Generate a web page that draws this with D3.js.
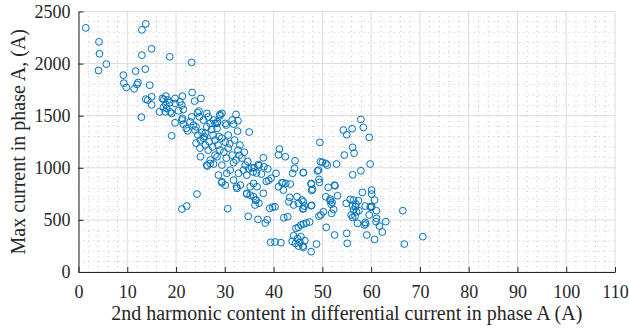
<!DOCTYPE html>
<html>
<head>
<meta charset="utf-8">
<script src="https://cdn.jsdelivr.net/npm/d3@7"></script>
<style>
  body { margin: 0; background: #fff; }
  text { font-family: "Liberation Serif", "Times New Roman", serif; fill: #262626; }
</style>
</head>
<body>
<div id="chart"></div>
<script>
// harmonic content (A) vs max current (A)
const harmonic = [
  1.5, 13.8, 13.0, 4.2, 4.3, 15.0, 13.0, 18.7, 5.7, 4.1, 13.7, 11.7, 9.2, 9.3, 12.2, 12.0, 9.8, 11.4, 14.6, 13.8, 14.2, 15.0, 15.0, 12.9, 23.2,
  16.6, 17.4, 17.9, 17.2, 17.9, 18.3, 18.7, 19.1, 19.8, 17.5, 18.1, 18.8, 17.8, 19.8, 20.8, 21.3, 21.2, 20.5, 21.5, 23.3, 23.8, 25.1, 19.8, 19.1, 21.2, 21.3, 21.5, 22.1, 22.4, 23.2, 22.9, 23.6, 24.1, 24.4, 24.8, 24.7,
  23.9, 24.5, 25.0, 25.6, 24.1, 26.0, 26.6, 24.9, 26.3, 26.6, 25.6, 27.0, 28.0, 28.5, 27.7, 26.3, 27.3, 28.4, 29.0, 29.4, 32.3, 32.7, 31.8, 30.1, 35.0, 32.6, 30.7, 32.0, 27.6, 28.0, 28.6, 29.4, 30.1, 29.0, 30.7, 31.5, 32.7, 30.3, 33.5, 32.3, 28.0, 27.0, 29.4, 34.2, 33.1, 25.0, 31.5, 30.3, 29.0, 28.4,
  25.3, 26.0, 25.8, 26.8, 27.5, 28.8, 29.8, 31.0, 31.8, 33.0, 34.0, 34.7, 35.5,
  26.3, 27.0, 28.4, 28.7, 29.4, 30.1, 30.4, 31.1, 31.8, 32.5, 33.2, 32.8, 33.8, 34.5, 35.2, 35.9, 36.6, 34.5, 35.2, 26.4, 27.7, 29.4, 32.4, 36.3, 37.0, 37.9, 38.5, 39.0, 36.0, 37.0, 38.0, 36.5, 37.5, 38.8, 39.5, 37.9, 36.9, 35.8, 34.9, 35.9, 36.2, 36.4, 34.5,
  21.2, 22.2, 24.3, 30.6, 34.8, 36.8, 38.7, 38.3, 39.4, 40.3, 41.5, 39.2, 39.8, 40.3,
  42.1, 42.9, 43.8, 44.5, 45.1, 46.1, 47.7, 44.1, 44.6, 45.1, 45.6, 46.1, 46.7, 47.4, 43.1, 44.1, 45.1, 45.8, 46.3, 47.8, 42.5, 41.9, 41.0, 40.5, 46.1, 44.3, 44.4, 41.2, 41.0, 42.4, 47.7, 48.0, 48.8, 43.3, 41.7, 43.4, 42.0, 44.8, 46.1, 43.9, 45.4, 46.0, 44.9, 45.6, 46.4,
  49.5, 56.2, 56.5, 54.5, 49.6, 50.0, 50.7, 51.0, 52.9, 59.8, 57.9, 56.2, 46.1, 49.0, 49.3, 49.4, 47.7, 47.8, 51.2, 52.5, 53.1, 50.7, 51.6, 52.0, 52.3, 51.9, 50.2, 49.7, 49.3, 46.1, 46.0, 47.7, 50.8, 52.5, 55.0, 55.1,
  54.9, 55.7, 56.4, 56.9, 57.4, 58.2, 60.1, 60.1, 60.7, 58.8, 59.8, 60.0, 60.1, 61.1, 56.4, 57.0, 57.5, 55.9, 56.2, 56.7, 58.8, 58.9, 57.2, 61.1, 61.0, 63.0, 61.7, 62.3, 59.1, 60.7, 66.5, 66.8, 70.6,
  59.6, 57.9, 58.4, 54.3, 55.0, 56.1, 52.6, 59.6, 56.2, 56.8, 58.6, 49.2, 51.6, 51.8
];
const maxCurrent = [
  2343, 2381, 2324, 2209, 2094, 2142, 2081, 2065, 1995, 1934, 1947, 1928, 1889, 1812, 1819, 1800, 1771, 1758, 1793, 1659, 1649, 1681, 1604, 1486, 2011,
  1537, 1579, 1608, 1665, 1688, 1650, 1624, 1522, 1665, 1656, 1570, 1537, 1537, 1618, 1633, 1688, 1602, 1547, 1560, 1723, 1640, 1666, 1432, 1307, 1458, 1474, 1419, 1378, 1355, 1489, 1441, 1410, 1393, 1528, 1489, 1544,
  1362, 1314, 1266, 1285, 1237, 1218, 1170, 1189, 1522, 1489, 1458, 1426, 1426, 1441, 1458, 1393, 1368, 1378, 1512, 1522, 1512, 1451, 1419, 1426, 1343, 1352, 1314, 1266, 1314, 1266, 1218, 1285, 1247, 1170, 1189, 1122, 1170, 1093, 1093, 1074, 1122, 1074, 1026, 1026, 1218, 1106, 1458, 1410, 1499, 1426,
  1340, 1330, 1300, 1250, 1200, 1300, 1150, 1230, 1050, 1120, 1150, 1060, 1000,
  1026, 1042, 1106, 930, 866, 834, 947, 978, 882, 803, 834, 947, 978, 930, 818, 850, 818, 755, 738, 1017, 1036, 856, 818, 690, 660, 755, 870, 880, 1000, 1020, 1010, 950, 940, 990, 900, 1096, 1030, 960, 990, 722, 643, 690, 748,
  604, 633, 748, 607, 534, 505, 502, 470, 285, 288, 281, 611, 623, 626,
  521, 530, 294, 275, 249, 237, 195, 348, 419, 429, 451, 460, 470, 480, 674, 643, 659, 690, 633, 640, 850, 856, 818, 947, 956, 994, 1067, 1180, 1125, 1106, 850, 793, 268, 716, 856, 844, 786, 722, 611, 947, 285, 249, 320, 340, 300,
  1244, 1196, 1141, 1122, 1058, 1052, 1042, 1026, 1036, 1036, 972, 933, 952, 969, 889, 860, 844, 783, 812, 834, 732, 722, 684, 668, 601, 563, 578, 547, 537, 674, 604, 636, 429, 355, 371, 275,
  659, 697, 690, 652, 684, 764, 786, 748, 690, 633, 626, 620, 630, 588, 595, 578, 588, 547, 524, 537, 476, 460, 467, 515, 483, 483, 441, 384, 355, 313, 588, 268, 339,
  1292, 1464, 1388, 1362, 1317, 1375, 827, 547, 633, 626, 451, 978, 700, 650
];
const xTicks = [0, 10, 20, 30, 40, 50, 60, 70, 80, 90, 100, 110];
const yTicks = [0, 500, 1000, 1500, 2000, 2500];
const xMinor = d3.range(0, 111, 2);
const yMinor = d3.range(0, 2501, 100);

const width = 629, height = 328;
const margin = {top: 11.5, right: 14, bottom: 56, left: 78.5};
const serif = '"Liberation Serif", "Times New Roman", serif';

const svg = d3.select("#chart").append("svg")
    .attr("width", width)
    .attr("height", height);

const x = d3.scaleLinear().domain([0, 110]).range([margin.left, width - margin.right]);
const y = d3.scaleLinear().domain([0, 2500]).range([height - margin.bottom, margin.top]);

// minor grid (dotted)
svg.append("g").selectAll("line")
    .data(xMinor.filter(d => d % 10 !== 0))
    .join("line")
    .attr("x1", d => x(d)).attr("x2", d => x(d))
    .attr("y1", y(0)).attr("y2", y(2500))
    .attr("stroke", "#c4c4c4").attr("stroke-width", 1)
    .attr("stroke-dasharray", "1,4");
svg.append("g").selectAll("line")
    .data(yMinor.filter(d => d % 500 !== 0))
    .join("line")
    .attr("y1", d => y(d)).attr("y2", d => y(d))
    .attr("x1", x(0)).attr("x2", x(110))
    .attr("stroke", "#c4c4c4").attr("stroke-width", 1)
    .attr("stroke-dasharray", "1,4");

// major grid
svg.append("g").selectAll("line")
    .data(xTicks)
    .join("line")
    .attr("x1", d => x(d)).attr("x2", d => x(d))
    .attr("y1", y(0)).attr("y2", y(2500))
    .attr("stroke", "#dcdcdc").attr("stroke-width", 1);
svg.append("g").selectAll("line")
    .data(yTicks)
    .join("line")
    .attr("y1", d => y(d)).attr("y2", d => y(d))
    .attr("x1", x(0)).attr("x2", x(110))
    .attr("stroke", "#dcdcdc").attr("stroke-width", 1);

// points
svg.append("g").selectAll("circle")
    .data(harmonic.map((h, i) => [h, maxCurrent[i]]))
    .join("circle")
    .attr("cx", d => x(d[0]))
    .attr("cy", d => y(d[1]))
    .attr("r", 3.4)
    .attr("fill", "none")
    .attr("stroke", "#0072BD")
    .attr("stroke-width", 1);

// axes
const xAxis = d3.axisBottom(x).tickValues(xTicks).tickFormat(d3.format("d"))
    .tickSizeInner(-5).tickSizeOuter(0).tickPadding(13);
const yAxis = d3.axisLeft(y).tickValues(yTicks).tickFormat(d3.format("d"))
    .tickSizeInner(-5).tickSizeOuter(0).tickPadding(8);

const gx = svg.append("g").attr("transform", `translate(0,${y(0)})`).call(xAxis);
const gy = svg.append("g").attr("transform", `translate(${x(0)},0)`).call(yAxis);

[gx, gy].forEach(g => {
    g.attr("font-family", serif).attr("font-size", 18);
    g.select(".domain").attr("stroke", "#262626");
    g.selectAll(".tick line").attr("stroke", "#262626");
    g.selectAll(".tick text").attr("fill", "#262626");
});

// axis titles
svg.append("text")
    .attr("x", (x(0) + x(110)) / 2)
    .attr("y", 320)
    .attr("text-anchor", "middle")
    .style("font-size", "20px")
    .text("2nd harmonic content in differential current in phase A (A)");

svg.append("text")
    .attr("transform", `translate(25,${(y(0) + y(2500)) / 2}) rotate(-90)`)
    .attr("text-anchor", "middle")
    .style("font-size", "20px")
    .text("Max current in phase A, (A)");
</script>
</body>
</html>
